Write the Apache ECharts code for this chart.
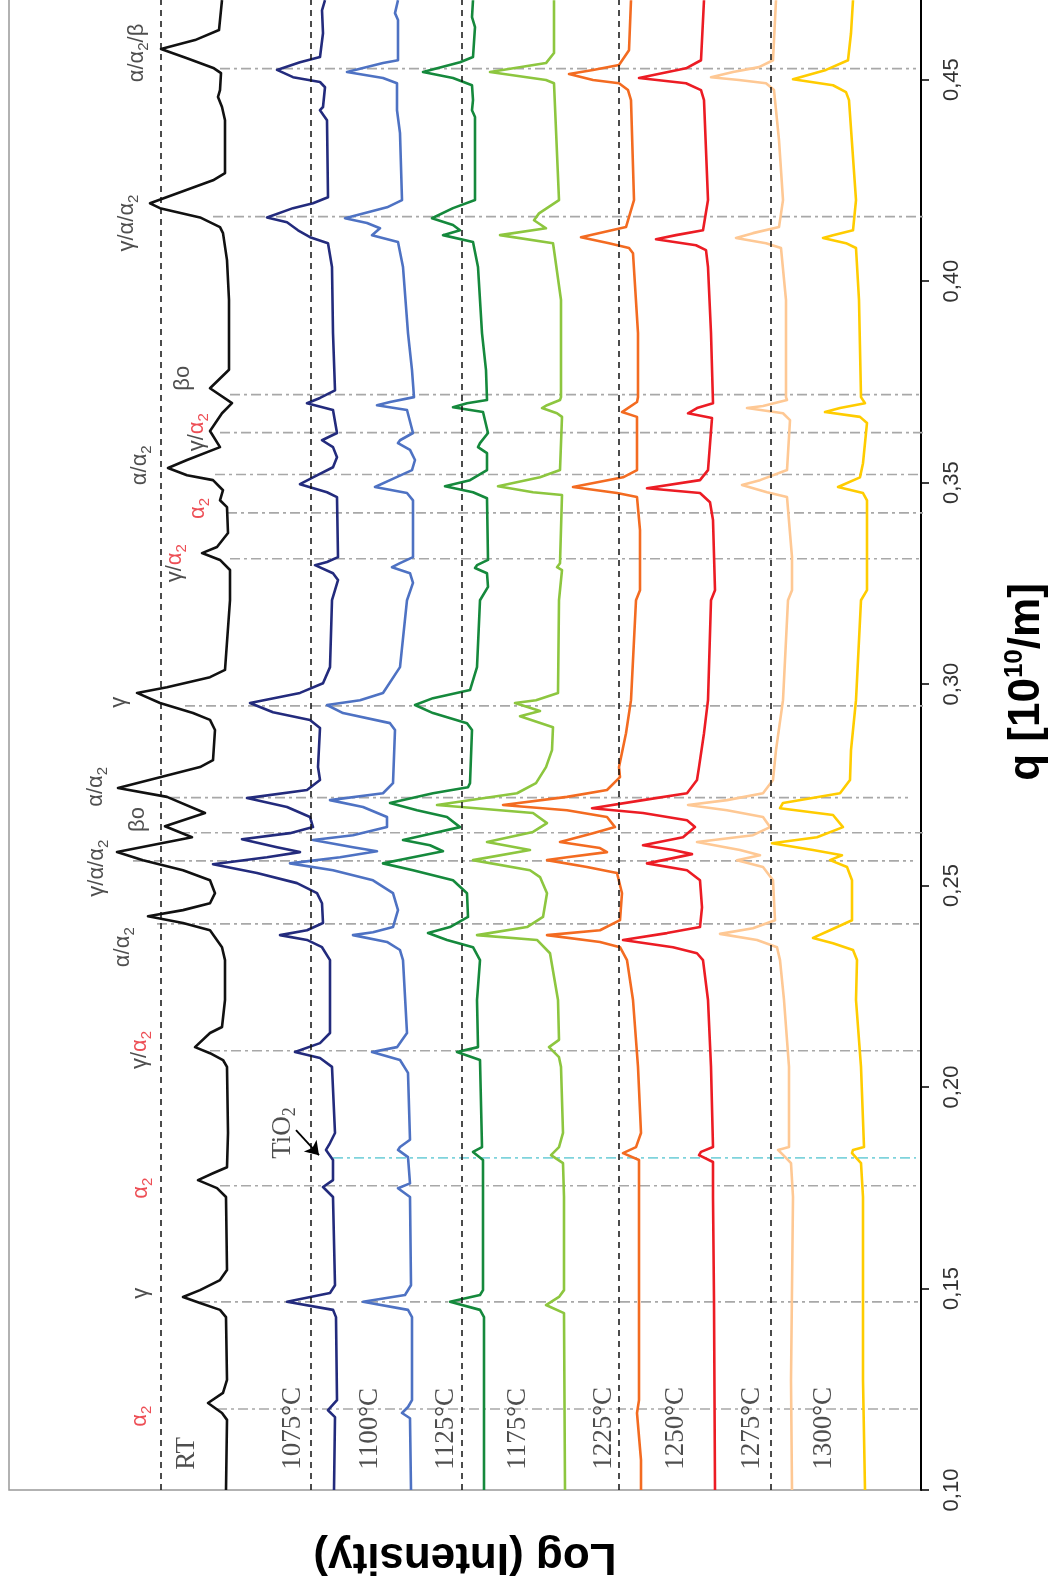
<!DOCTYPE html>
<html><head><meta charset="utf-8">
<script src="https://cdn.jsdelivr.net/npm/echarts/dist/echarts.min.js"></script>
<style>html,body{margin:0;padding:0;background:#fff}#c{width:1056px;height:1592px}</style>
</head><body><div id="c"></div>
<script>
// q axis range and tick labels
const qRange = [0.10, 0.47];
const qTicks = [0.10, 0.15, 0.20, 0.25, 0.30, 0.35, 0.40, 0.45];
// intensity axis (arbitrary log-intensity units, offset stacked)
const intensityRange = [0, 912];
// baselines (black dashed) at these intensity values
const baselines = [760, 610, 459, 302, 150];
// reflection positions: [q, intensity start, intensity end]
const peakLines = [
  [0.4527, 701, 5], [0.4160, 708, -45], [0.3718, 691, -58], [0.3624, 701, -48],
  [0.3520, 706, 2], [0.3425, 694, -85], [0.3311, 691, -70], [0.2946, 736, -10],
  [0.2718, 751, 13], [0.2631, 741, -27], [0.2561, 788, 8], [0.2405, 764, 2],
  [0.2090, 711, -2], [0.1755, 701, 5], [0.1467, 721, 3], [0.1201, 704, 3]
];
const tio2Line = [0.1824, 588, 5];

// traces: [logIntensity (offset), q]
const traceRT = [[699,0.4697],[702,0.4623],[726,0.4598],[760,0.4576],[734,0.4553],[707,0.4528],[700,0.4516],[701,0.4474],[703,0.4457],[699,0.4432],[696,0.4399],[696,0.4268],[708,0.4250],[771,0.4193],[761,0.4181],[721,0.4158],[701,0.4134],[698,0.4119],[694,0.4052],[692,0.3953],[692,0.3780],[711,0.3734],[689,0.3697],[699,0.3672],[711,0.3628],[701,0.3588],[734,0.3556],[753,0.3536],[734,0.3518],[708,0.3506],[698,0.3481],[701,0.3456],[694,0.3439],[693,0.3375],[704,0.3340],[719,0.3325],[701,0.3308],[691,0.3283],[691,0.3208],[696,0.3035],[711,0.3017],[754,0.2992],[784,0.2978],[761,0.2953],[728,0.2928],[711,0.2911],[706,0.2886],[708,0.2811],[721,0.2794],[761,0.2769],[803,0.2742],[754,0.2720],[716,0.2680],[756,0.2647],[729,0.2620],[804,0.2583],[778,0.2563],[738,0.2538],[711,0.2513],[706,0.2481],[711,0.2456],[738,0.2439],[773,0.2424],[738,0.2407],[711,0.2389],[699,0.2347],[696,0.2315],[696,0.2216],[699,0.2149],[711,0.2134],[726,0.2099],[711,0.2084],[698,0.2067],[694,0.2050],[693,0.1886],[694,0.1801],[708,0.1786],[723,0.1769],[704,0.1749],[695,0.1727],[694,0.1546],[701,0.1521],[721,0.1496],[738,0.1479],[721,0.1464],[701,0.1447],[695,0.1429],[694,0.1273],[698,0.1241],[713,0.1216],[699,0.1191],[694,0.1174],[695,0.1000]];
const trace1075 = [[596,0.4697],[599,0.4672],[598,0.4615],[601,0.4556],[621,0.4543],[644,0.4524],[628,0.4506],[601,0.4494],[596,0.4481],[598,0.4432],[601,0.4424],[594,0.4399],[593,0.4208],[608,0.4193],[628,0.4181],[654,0.4158],[634,0.4146],[623,0.4126],[611,0.4109],[593,0.4094],[589,0.4035],[588,0.3871],[586,0.3729],[601,0.3710],[614,0.3697],[588,0.3680],[584,0.3623],[599,0.3605],[588,0.3588],[584,0.3563],[588,0.3538],[608,0.3513],[621,0.3496],[594,0.3476],[584,0.3464],[583,0.3315],[594,0.3303],[606,0.3295],[588,0.3275],[583,0.3258],[589,0.3208],[591,0.3042],[598,0.3002],[621,0.2978],[671,0.2953],[648,0.2930],[611,0.2911],[601,0.2891],[603,0.2794],[601,0.2762],[614,0.2737],[674,0.2717],[634,0.2695],[611,0.2670],[608,0.2645],[631,0.2630],[679,0.2615],[644,0.2595],[621,0.2583],[654,0.2570],[708,0.2553],[664,0.2531],[624,0.2506],[604,0.2481],[599,0.2456],[598,0.2407],[614,0.2389],[641,0.2377],[614,0.2365],[599,0.2347],[591,0.2315],[591,0.2134],[601,0.2109],[626,0.2087],[601,0.2072],[589,0.2050],[586,0.1886],[591,0.1861],[595,0.1844],[588,0.1819],[588,0.1769],[598,0.1752],[588,0.1727],[586,0.1508],[591,0.1489],[634,0.1467],[588,0.1447],[585,0.1429],[584,0.1223],[593,0.1198],[586,0.1181],[587,0.1000]];
const trace1100 = [[523,0.4697],[526,0.4665],[523,0.4648],[523,0.4548],[538,0.4541],[574,0.4519],[538,0.4504],[524,0.4491],[524,0.4424],[521,0.4367],[519,0.4201],[534,0.4183],[576,0.4156],[554,0.4144],[541,0.4131],[549,0.4114],[523,0.4097],[518,0.4035],[513,0.3871],[509,0.3779],[507,0.3712],[531,0.3700],[544,0.3692],[514,0.3680],[508,0.3623],[521,0.3605],[523,0.3598],[511,0.3581],[506,0.3556],[509,0.3531],[531,0.3506],[546,0.3489],[514,0.3474],[508,0.3456],[508,0.3315],[521,0.3300],[529,0.3290],[511,0.3275],[508,0.3251],[514,0.3208],[521,0.3042],[538,0.2978],[561,0.2960],[594,0.2948],[578,0.2928],[531,0.2903],[526,0.2886],[528,0.2754],[538,0.2729],[591,0.2712],[558,0.2695],[534,0.2670],[534,0.2645],[568,0.2625],[608,0.2613],[568,0.2595],[544,0.2585],[581,0.2570],[631,0.2555],[588,0.2538],[548,0.2513],[528,0.2481],[523,0.2439],[528,0.2397],[548,0.2384],[568,0.2377],[534,0.2360],[521,0.2340],[518,0.2315],[514,0.2134],[524,0.2099],[549,0.2087],[521,0.2067],[513,0.2035],[511,0.1869],[521,0.1851],[523,0.1844],[513,0.1826],[511,0.1761],[523,0.1749],[511,0.1727],[510,0.1508],[516,0.1484],[558,0.1467],[513,0.1447],[509,0.1429],[509,0.1223],[513,0.1206],[519,0.1191],[511,0.1178],[510,0.1000]];
const trace1125 = [[448,0.4697],[449,0.4655],[446,0.4630],[448,0.4556],[461,0.4543],[498,0.4519],[468,0.4504],[449,0.4486],[448,0.4449],[449,0.4424],[446,0.4407],[446,0.4201],[468,0.4181],[489,0.4156],[468,0.4139],[461,0.4126],[478,0.4114],[448,0.4097],[443,0.4035],[439,0.3871],[435,0.3779],[434,0.3705],[454,0.3697],[468,0.3687],[438,0.3675],[433,0.3623],[441,0.3598],[443,0.3588],[434,0.3573],[434,0.3531],[451,0.3506],[476,0.3491],[448,0.3476],[434,0.3461],[433,0.3308],[444,0.3295],[446,0.3288],[434,0.3275],[433,0.3241],[441,0.3208],[444,0.3042],[451,0.2985],[488,0.2965],[506,0.2948],[488,0.2928],[454,0.2903],[449,0.2886],[451,0.2754],[453,0.2744],[488,0.2729],[531,0.2705],[504,0.2687],[474,0.2670],[461,0.2645],[488,0.2630],[518,0.2613],[491,0.2600],[478,0.2585],[508,0.2570],[538,0.2555],[508,0.2538],[468,0.2513],[454,0.2481],[453,0.2422],[471,0.2397],[493,0.2382],[474,0.2365],[448,0.2347],[441,0.2315],[444,0.2216],[443,0.2099],[464,0.2087],[441,0.2067],[439,0.1851],[448,0.1839],[438,0.1819],[438,0.1496],[441,0.1484],[471,0.1467],[441,0.1447],[437,0.1429],[437,0.1000]];
const trace1175 = [[367,0.4697],[367,0.4566],[375,0.4541],[431,0.4519],[375,0.4499],[367,0.4491],[362,0.4201],[382,0.4168],[387,0.4151],[375,0.4131],[421,0.4114],[368,0.4094],[367,0.4077],[360,0.3953],[360,0.3712],[361,0.3705],[374,0.3692],[379,0.3685],[364,0.3672],[359,0.3663],[361,0.3531],[381,0.3513],[423,0.3491],[388,0.3476],[359,0.3469],[361,0.3300],[364,0.3290],[359,0.3283],[362,0.3208],[363,0.2978],[385,0.2960],[406,0.2953],[381,0.2933],[401,0.2920],[368,0.2893],[369,0.2836],[375,0.2794],[385,0.2754],[404,0.2729],[484,0.2700],[388,0.2680],[374,0.2655],[388,0.2633],[434,0.2608],[391,0.2588],[448,0.2563],[391,0.2538],[381,0.2521],[374,0.2481],[378,0.2422],[394,0.2397],[444,0.2377],[384,0.2365],[371,0.2332],[363,0.2216],[362,0.2117],[372,0.2099],[362,0.2074],[360,0.2050],[358,0.1886],[362,0.1851],[370,0.1831],[358,0.1811],[357,0.1727],[357,0.1496],[362,0.1479],[375,0.1459],[357,0.1439],[356,0.1000]];
const trace1225 = [[290,0.4697],[292,0.4573],[302,0.4536],[328,0.4524],[352,0.4514],[328,0.4499],[302,0.4491],[293,0.4474],[290,0.4449],[287,0.4201],[295,0.4134],[318,0.4121],[340,0.4109],[312,0.4094],[292,0.4082],[288,0.4069],[283,0.3871],[283,0.3712],[284,0.3700],[299,0.3675],[284,0.3663],[284,0.3531],[298,0.3513],[348,0.3489],[304,0.3474],[284,0.3464],[281,0.3382],[281,0.3233],[285,0.3208],[290,0.2960],[295,0.2878],[302,0.2794],[301,0.2769],[314,0.2737],[354,0.2720],[418,0.2700],[354,0.2687],[314,0.2670],[306,0.2645],[328,0.2630],[361,0.2608],[321,0.2593],[314,0.2583],[354,0.2570],[374,0.2563],[334,0.2546],[304,0.2531],[299,0.2481],[301,0.2414],[321,0.2389],[374,0.2377],[321,0.2360],[301,0.2347],[294,0.2315],[288,0.2216],[283,0.2050],[280,0.1886],[285,0.1851],[298,0.1836],[282,0.1819],[282,0.1727],[282,0.1223],[284,0.1191],[280,0.1074],[280,0.1000]];
const trace1250 = [[217,0.4697],[220,0.4548],[235,0.4528],[282,0.4504],[235,0.4491],[220,0.4474],[217,0.4449],[213,0.4201],[218,0.4126],[245,0.4114],[265,0.4104],[225,0.4089],[215,0.4077],[213,0.4035],[210,0.3871],[208,0.3697],[224,0.3685],[233,0.3672],[209,0.3660],[213,0.3531],[221,0.3506],[274,0.3486],[221,0.3474],[211,0.3451],[208,0.3407],[206,0.3233],[210,0.3208],[213,0.2960],[217,0.2878],[222,0.2794],[224,0.2762],[234,0.2729],[278,0.2712],[329,0.2692],[278,0.2680],[234,0.2662],[226,0.2645],[238,0.2620],[278,0.2600],[248,0.2588],[229,0.2578],[248,0.2568],[274,0.2555],[234,0.2538],[221,0.2513],[219,0.2446],[221,0.2397],[254,0.2382],[298,0.2365],[248,0.2347],[224,0.2332],[218,0.2315],[213,0.2216],[210,0.2050],[208,0.1851],[220,0.1839],[222,0.1831],[208,0.1814],[208,0.1727],[207,0.1471],[206,0.1000]];
const trace1275 = [[145,0.4697],[148,0.4548],[162,0.4531],[188,0.4519],[210,0.4506],[182,0.4499],[155,0.4491],[147,0.4474],[142,0.4350],[138,0.4201],[142,0.4134],[168,0.4119],[185,0.4107],[155,0.4094],[140,0.4082],[135,0.3953],[135,0.3712],[134,0.3705],[158,0.3690],[174,0.3685],[138,0.3672],[131,0.3655],[134,0.3531],[161,0.3506],[179,0.3494],[154,0.3476],[134,0.3464],[129,0.3315],[129,0.3233],[133,0.3208],[138,0.2960],[145,0.2836],[148,0.2762],[158,0.2729],[194,0.2712],[233,0.2700],[194,0.2687],[158,0.2670],[151,0.2645],[168,0.2625],[224,0.2608],[181,0.2588],[161,0.2575],[184,0.2563],[158,0.2546],[148,0.2513],[146,0.2414],[168,0.2394],[201,0.2380],[164,0.2365],[144,0.2347],[141,0.2315],[137,0.2216],[132,0.2050],[132,0.1851],[143,0.1844],[135,0.1824],[130,0.1811],[128,0.1727],[130,0.1273],[129,0.1000]];
const trace1300 = [[68,0.4697],[70,0.4615],[73,0.4548],[95,0.4524],[128,0.4501],[88,0.4486],[75,0.4469],[72,0.4449],[65,0.4201],[68,0.4126],[88,0.4114],[98,0.4107],[75,0.4094],[65,0.4082],[62,0.3953],[60,0.3712],[56,0.3697],[81,0.3685],[96,0.3675],[61,0.3663],[54,0.3648],[58,0.3548],[61,0.3513],[83,0.3489],[58,0.3474],[54,0.3456],[54,0.3233],[60,0.3208],[65,0.2960],[70,0.2836],[71,0.2762],[81,0.2729],[138,0.2705],[141,0.2692],[88,0.2675],[78,0.2645],[104,0.2620],[149,0.2605],[108,0.2588],[79,0.2575],[91,0.2563],[74,0.2546],[69,0.2513],[69,0.2414],[91,0.2389],[108,0.2370],[88,0.2357],[68,0.2340],[64,0.2315],[65,0.2216],[60,0.2050],[57,0.1851],[68,0.1844],[69,0.1836],[60,0.1811],[58,0.1727],[58,0.1273],[56,0.1000]];

const traceNames = ['RT','1075°C','1100°C','1125°C','1175°C','1225°C','1250°C','1275°C','1300°C'];
const traceColors = ['#111111','#232b7d','#4e72c3','#15893c','#8dc63f','#f36b21','#ec1c24','#fec894','#ffcc00'];
const traceData = [traceRT, trace1075, trace1100, trace1125, trace1175, trace1225, trace1250, trace1275, trace1300];

// temperature labels: [intensity, q]
const tempLabelPos = [[734,0.1050],[628,0.1050],[551,0.1050],[475,0.1050],[403,0.1050],[317,0.1050],[245,0.1050],[169,0.1050],[97,0.1050]];

// reflection labels
const peakLabelText = ['α/α{s|2}/β','γ/α/α{s|2}','βo','γ/{r|α}{rs|2}','α/α{s|2}','{r|α}{rs|2}','γ/{r|α}{rs|2}','γ','α/α{s|2}','βo','γ/α/α{s|2}','α/α{s|2}','γ/{r|α}{rs|2}','{r|α}{rs|2}','γ','{r|α}{rs|2}'];
const peakLabelPos = [[784,0.4566],[794,0.4144],[738,0.3759],[724,0.3625],[781,0.3543],[723,0.3436],[746,0.3300],[802,0.2955],[825,0.2745],[783,0.2664],[824,0.2543],[798,0.2347],[781,0.2092],[780,0.1749],[780,0.1488],[781,0.1183]];
const tio2LabelPos = [638, 0.1886];
const tio2Arrow = [[625, 0.1893], [602, 0.1831]];

const chart = echarts.init(document.getElementById('c'), null, {renderer: 'canvas'});

const subRich = {
  s: {fontSize: 15, fontFamily: 'Liberation Sans, DejaVu Sans', color: '#222', verticalAlign: 'bottom', lineHeight: 15},
  r: {fontSize: 22, fontFamily: 'Liberation Sans, DejaVu Sans', color: '#e8222a', lineHeight: 28},
  rs: {fontSize: 15, fontFamily: 'Liberation Sans, DejaVu Sans', color: '#e8222a', verticalAlign: 'bottom', lineHeight: 15}
};

const series = [];

// reflection position lines (dash-dot), drawn as short line series so they may run past the axis
peakLines.forEach((p, i) => {
  series.push({
    type: 'line', name: 'ref' + i, data: [[p[1], p[0]], [p[2], p[0]]], clip: false, silent: true, z: 2,
    symbol: 'none', showSymbol: false, animation: false,
    lineStyle: {color: '#a8a8a8', width: 1.7, type: [10, 4, 3, 4]}
  });
});
series.push({
  type: 'line', name: 'refTiO2', data: [[tio2Line[1], tio2Line[0]], [tio2Line[2], tio2Line[0]]], clip: false, silent: true, z: 2,
  symbol: 'none', showSymbol: false, animation: false,
  lineStyle: {color: '#7fd3dc', width: 1.7, type: [10, 4, 3, 4]}
});

// baselines
series.push({
  type: 'line', name: 'baselines', data: [], silent: true, z: 3,
  markLine: {
    silent: true, symbol: 'none', animation: false, label: {show: false},
    lineStyle: {color: '#111', width: 1.5, type: [6, 5]},
    data: baselines.map(v => ({xAxis: v}))
  }
});

traceData.forEach((d, i) => {
  series.push({
    type: 'line', name: traceNames[i], data: d, symbol: 'none', showSymbol: false,
    lineStyle: {color: traceColors[i], width: 2.6, join: 'round'}, z: 4, silent: true, animation: false
  });
});

series.push({
  type: 'scatter', name: 'peakLabels', symbolSize: 1, itemStyle: {color: 'rgba(0,0,0,0)'},
  silent: true, z: 6,
  data: peakLabelText.map((t, i) => ({value: peakLabelPos[i], label: {formatter: t}})),
  label: {
    show: true, position: 'inside', rotate: 90, align: 'center', verticalAlign: 'middle',
    fontSize: 22, fontFamily: 'Liberation Sans, DejaVu Sans', color: '#222', lineHeight: 28,
    rich: subRich
  },
  markLine: {
    silent: true, animation: false, symbol: ['none', 'arrow'], symbolSize: 13, label: {show: false},
    lineStyle: {color: '#000', width: 1.8, type: 'solid'},
    data: [[{coord: tio2Arrow[0]}, {coord: tio2Arrow[1]}]]
  }
});

series.push({
  type: 'scatter', name: 'tio2Label', symbolSize: 1, itemStyle: {color: 'rgba(0,0,0,0)'},
  silent: true, z: 6,
  data: [{value: tio2LabelPos}],
  label: {
    show: true, position: 'inside', rotate: 90, align: 'center', verticalAlign: 'middle',
    formatter: 'TiO{s|2}', fontSize: 27, fontFamily: 'Liberation Serif, DejaVu Serif', color: '#222', lineHeight: 32,
    rich: {s: {fontSize: 18, fontFamily: 'Liberation Serif, DejaVu Serif', color: '#222', verticalAlign: 'bottom', lineHeight: 18}}
  }
});

series.push({
  type: 'scatter', name: 'tempLabels', symbolSize: 1, itemStyle: {color: 'rgba(0,0,0,0)'},
  silent: true, z: 6,
  data: tempLabelPos.map((p, i) => ({value: p, label: {formatter: traceNames[i]}})),
  label: {
    show: true, position: 'inside', rotate: 90, align: 'left', verticalAlign: 'middle',
    fontSize: 27, fontFamily: 'Liberation Serif, DejaVu Serif', color: '#222'
  }
});

chart.setOption({
  animation: false,
  backgroundColor: '#fff',
  grid: {left: 9, right: 135, top: -1, bottom: 102, show: true, borderColor: '#999', borderWidth: 1.5,
         backgroundColor: 'transparent', containLabel: false, outerBoundsMode: 'none'},
  xAxis: {type: 'value', min: intensityRange[0], max: intensityRange[1], inverse: true, show: false},
  yAxis: {
    type: 'value', position: 'right', min: qRange[0], max: qRange[1], interval: 0.05,
    axisLine: {show: true, onZero: false, lineStyle: {color: '#000', width: 2}},
    axisTick: {show: true, inside: false, length: 8, lineStyle: {color: '#000', width: 1.5}},
    splitLine: {show: false},
    axisLabel: {
      show: true, rotate: 90, margin: 20, fontSize: 22, color: '#333',
      fontFamily: 'Liberation Sans, Arial, sans-serif',
      formatter: v => qTicks.some(t => Math.abs(t - v) < 1e-6) ? v.toFixed(2).replace('.', ',') : ''
    }
  },
  graphic: [
    {type: 'text', x: 465, y: 1556, rotation: Math.PI, silent: true, z: 10,
     style: {text: 'Log (Intensity)', fontSize: 44, fontWeight: 'bold', fontFamily: 'Liberation Sans, Arial, sans-serif',
             fill: '#000', align: 'center', verticalAlign: 'middle'}},
    {type: 'text', x: 1027, y: 682, rotation: Math.PI / 2, silent: true, z: 10,
     style: {text: 'q [10{sup|10}/m]', fontSize: 44, fontWeight: 'bold', fontFamily: 'Liberation Sans, Arial, sans-serif',
             fill: '#000', align: 'center', verticalAlign: 'middle', lineHeight: 50,
             rich: {sup: {fontSize: 26, fontWeight: 'bold', fontFamily: 'Liberation Sans, Arial, sans-serif', fill: '#000', verticalAlign: 'top', lineHeight: 26}}}}
  ],
  series: series
});
</script>
</body></html>
